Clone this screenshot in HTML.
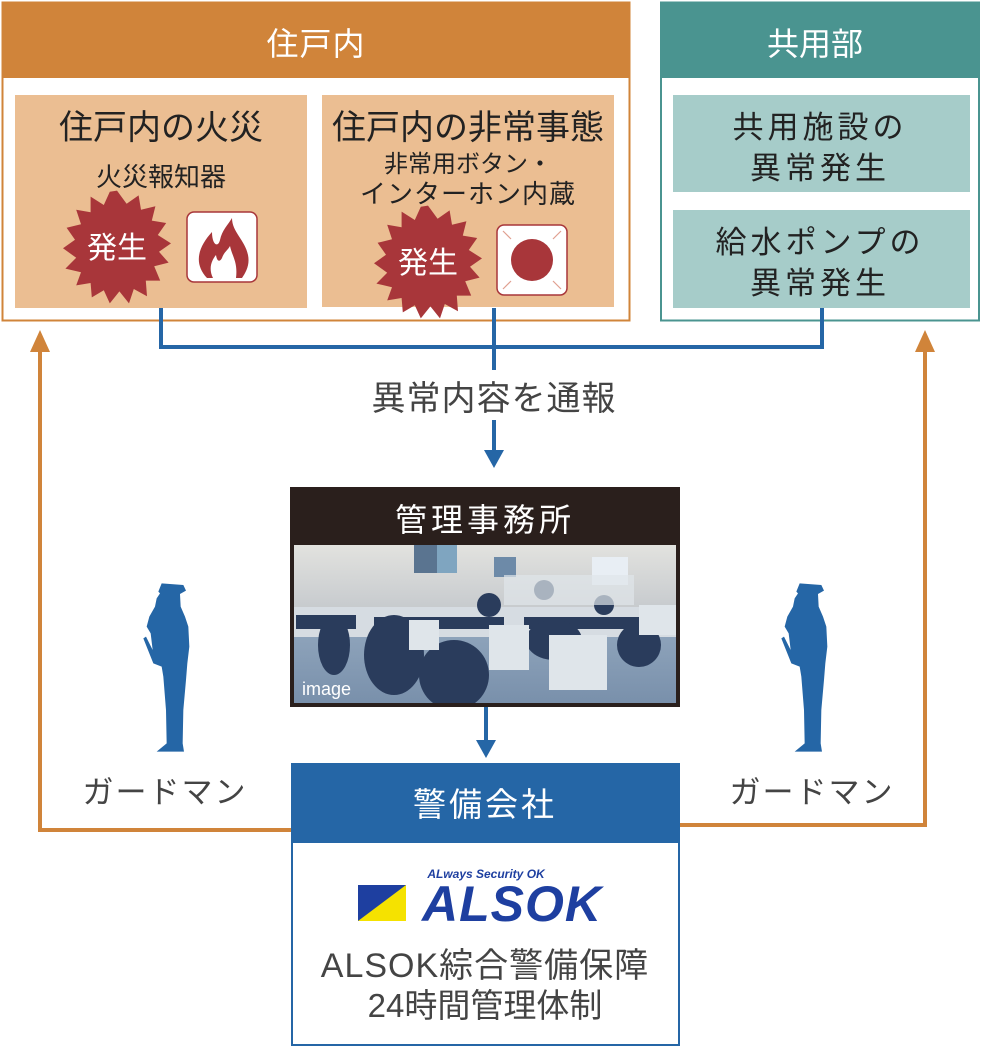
<!DOCTYPE html>
<html><head><meta charset="utf-8"><style>
html,body{margin:0;padding:0;background:#fff;}
svg{display:block;}
text{font-family:"Liberation Sans","Noto Sans CJK JP",sans-serif;}
</style></head><body>
<svg width="982" height="1048" viewBox="0 0 982 1048" xmlns="http://www.w3.org/2000/svg">
<defs>
<linearGradient id="wall" x1="0" y1="0" x2="0" y2="1"><stop offset="0" stop-color="#e2e2df"/><stop offset="1" stop-color="#c4c8cc"/></linearGradient>
<linearGradient id="floor" x1="0" y1="0" x2="0" y2="1"><stop offset="0" stop-color="#a9bccf"/><stop offset="1" stop-color="#7990ab"/></linearGradient>
</defs>
<!-- 住戸内 -->
<rect x="2.5" y="2.5" width="627" height="318" fill="#fff" stroke="#D0843A" stroke-width="2"/>
<rect x="2" y="2" width="628" height="76" fill="#D0843A"/>
<text x="316" y="55" font-size="32" fill="#fff" text-anchor="middle" letter-spacing="1">住戸内</text>
<rect x="15" y="95" width="292" height="213" fill="#EBBE92"/>
<rect x="322" y="95" width="292" height="212" fill="#EBBE92"/>
<text x="161" y="139" font-size="34" fill="#222" text-anchor="middle">住戸内の火災</text>
<text x="161" y="186" font-size="26" fill="#222" text-anchor="middle">火災報知器</text>
<text x="468" y="139" font-size="34" fill="#222" text-anchor="middle">住戸内の非常事態</text>
<text x="468" y="172" font-size="24" fill="#222" text-anchor="middle">非常用ボタン・</text>
<text x="468" y="203" font-size="26" fill="#222" text-anchor="middle" letter-spacing="1">インターホン内蔵</text>
<!-- bursts -->
<g transform="translate(117,247) scale(1.2)">
<polygon fill="#A8363A" points="0,-47 8,-36 18,-43 20,-31 32,-34 29,-22 41,-20 34,-10 45,-3 35,4 43,13 31,16 36,28 24,28 25,41 14,35 10,47 2,37 -6,47 -11,36 -21,42 -22,30 -34,32 -30,21 -43,18 -34,9 -45,1 -35,-6 -42,-16 -30,-19 -34,-31 -22,-29 -22,-42 -11,-35 -6,-46"/>
<text x="0" y="9" font-size="25" fill="#fff" text-anchor="middle">発生</text>
</g>
<g transform="translate(428,262) scale(1.2)">
<polygon fill="#A8363A" points="0,-47 8,-36 18,-43 20,-31 32,-34 29,-22 41,-20 34,-10 45,-3 35,4 43,13 31,16 36,28 24,28 25,41 14,35 10,47 2,37 -6,47 -11,36 -21,42 -22,30 -34,32 -30,21 -43,18 -34,9 -45,1 -35,-6 -42,-16 -30,-19 -34,-31 -22,-29 -22,-42 -11,-35 -6,-46"/>
<text x="0" y="9" font-size="25" fill="#fff" text-anchor="middle">発生</text>
</g>
<!-- fire icon -->
<rect x="187" y="212" width="70" height="70" rx="7" fill="#fff" stroke="#A8363A" stroke-width="1.5"/>
<path d="M207,278 C192,262 200,245 212,232 C212,245 218,248 220,240 C222,230 228,225 232,218 C232,232 245,240 248,255 C250,265 246,272 242,278 Z" fill="#A8363A"/>
<path d="M213,278 C208,268 212,260 216,255 C217,262 220,262 222,258 C224,252 228,250 230,246 C232,256 238,262 236,278 Z" fill="#fff"/>
<!-- button icon -->
<rect x="497" y="225" width="70" height="70" rx="7" fill="#fff" stroke="#A8363A" stroke-width="1.5"/>
<circle cx="532" cy="260" r="21" fill="#A8363A"/>
<g stroke="#E0A090" stroke-width="1.2"><line x1="503" y1="231" x2="511" y2="239"/><line x1="561" y1="231" x2="553" y2="239"/><line x1="503" y1="289" x2="511" y2="281"/><line x1="561" y1="289" x2="553" y2="281"/></g>
<!-- 共用部 -->
<rect x="661" y="2.5" width="318" height="318" fill="#fff" stroke="#4A9490" stroke-width="2"/>
<rect x="660" y="2" width="320" height="76" fill="#4A9490"/>
<text x="815" y="55" font-size="32" fill="#fff" text-anchor="middle">共用部</text>
<rect x="673" y="95" width="297" height="97" fill="#A6CCC9"/>
<rect x="673" y="210" width="297" height="98" fill="#A6CCC9"/>
<text x="820" y="138" font-size="31" fill="#222" text-anchor="middle" letter-spacing="4">共用施設の</text>
<text x="820" y="179" font-size="31" fill="#222" text-anchor="middle" letter-spacing="4">異常発生</text>
<text x="820" y="253" font-size="31" fill="#222" text-anchor="middle" letter-spacing="4">給水ポンプの</text>
<text x="820" y="294" font-size="31" fill="#222" text-anchor="middle" letter-spacing="4">異常発生</text>
<!-- blue connectors -->
<g stroke="#2566A6" stroke-width="4" fill="none">
<polyline points="161,308 161,347 822,347 822,308"/>
<line x1="494" y1="308" x2="494" y2="370"/>
<line x1="494" y1="420" x2="494" y2="452"/>
<line x1="486" y1="707" x2="486" y2="742"/>
</g>
<polygon points="484,450 504,450 494,468" fill="#2566A6"/>
<polygon points="476,740 496,740 486,758" fill="#2566A6"/>
<text x="494" y="410" font-size="34" fill="#444" text-anchor="middle" letter-spacing="1">異常内容を通報</text>
<!-- orange connectors -->
<g stroke="#D0843A" stroke-width="4" fill="none">
<polyline points="291,830 40,830 40,350"/>
<polyline points="680,825 925,825 925,350"/>
</g>
<polygon points="30,352 50,352 40,330" fill="#D0843A"/>
<polygon points="915,352 935,352 925,330" fill="#D0843A"/>
<text x="165" y="803" font-size="31" fill="#444" text-anchor="middle" letter-spacing="2">ガードマン</text>
<text x="812" y="803" font-size="31" fill="#444" text-anchor="middle" letter-spacing="2">ガードマン</text>
<!-- guards -->
<g transform="translate(130,570) scale(0.3333)" fill="#2566A6">
<path d="M95,40 L160,45 L168,62 L150,72 L152,110 L165,140 L175,170 L178,230 L172,280 L168,330 L160,420 L158,520 L162,545 L80,545 L110,520 L108,420 L100,320 L95,290 L70,280 L40,205 L48,200 L68,240 L62,190 L50,170 L58,140 L75,110 L80,85 L90,70 L85,65 Z"/>
</g>
<g transform="translate(768,570) scale(0.3333)" fill="#2566A6">
<path d="M95,40 L160,45 L168,62 L150,72 L152,110 L165,140 L175,170 L178,230 L172,280 L168,330 L160,420 L158,520 L162,545 L80,545 L110,520 L108,420 L100,320 L95,290 L70,280 L40,205 L48,200 L68,240 L62,190 L50,170 L58,140 L75,110 L80,85 L90,70 L85,65 Z"/>
</g>
<!-- 管理事務所 -->
<rect x="290" y="487" width="390" height="220" fill="#2A1F1C"/>
<text x="485" y="531" font-size="32" fill="#fff" text-anchor="middle" letter-spacing="4">管理事務所</text>
<svg x="294" y="545" width="382" height="158" viewBox="0 0 382 158">
<rect width="382" height="158" fill="url(#floor)"/>
<rect width="382" height="70" fill="url(#wall)"/>
<rect x="120" y="0" width="35" height="28" fill="#5a7490"/><rect x="143" y="0" width="20" height="28" fill="#7fa5c0"/>
<rect x="200" y="12" width="22" height="20" fill="#6d8aa8"/>
<rect x="298" y="12" width="36" height="28" fill="#e8eef4"/>
<rect x="0" y="62" width="382" height="30" fill="#d6dce2"/>
<g fill="#2a3c5c">
<rect x="2" y="70" width="60" height="14"/><rect x="80" y="72" width="130" height="12"/><rect x="230" y="72" width="150" height="12"/>
<ellipse cx="40" cy="100" rx="16" ry="30"/><ellipse cx="100" cy="110" rx="30" ry="40"/>
<ellipse cx="160" cy="130" rx="35" ry="35"/><ellipse cx="260" cy="95" rx="28" ry="20"/><ellipse cx="345" cy="100" rx="22" ry="22"/>
<ellipse cx="195" cy="60" rx="12" ry="12"/><ellipse cx="250" cy="45" rx="10" ry="10"/><ellipse cx="310" cy="60" rx="10" ry="10"/>
</g>
<g fill="#dfe5ea"><rect x="115" y="75" width="30" height="30"/><rect x="195" y="80" width="40" height="45"/><rect x="255" y="90" width="58" height="55"/><rect x="345" y="60" width="37" height="30"/><rect x="210" y="30" width="130" height="30" opacity="0.7"/></g>
<text x="8" y="150" font-size="18" fill="#fff">image</text>
</svg>
<!-- 警備会社 -->
<rect x="292" y="764" width="387" height="281" fill="#fff" stroke="#2566A6" stroke-width="2"/>
<rect x="291" y="763" width="389" height="80" fill="#2566A6"/>
<text x="485" y="816" font-size="33" fill="#fff" text-anchor="middle" letter-spacing="3">警備会社</text>
<text x="486" y="878" font-size="12" font-weight="bold" font-style="italic" fill="#1E3FA0" text-anchor="middle">ALways Security OK</text>
<polygon points="358,885 406,885 406,921 358,921" fill="#1E3FA0"/>
<polygon points="358,921 406,885 406,921" fill="#F5E200"/>
<text x="512" y="921" font-size="50" font-weight="bold" font-style="italic" fill="#1E3FA0" text-anchor="middle" letter-spacing="1">ALSOK</text>
<text x="485" y="977" font-size="34" fill="#444" text-anchor="middle" letter-spacing="1">ALSOK綜合警備保障</text>
<text x="485" y="1017" font-size="33" fill="#444" text-anchor="middle">24時間管理体制</text>
</svg>
</body></html>
